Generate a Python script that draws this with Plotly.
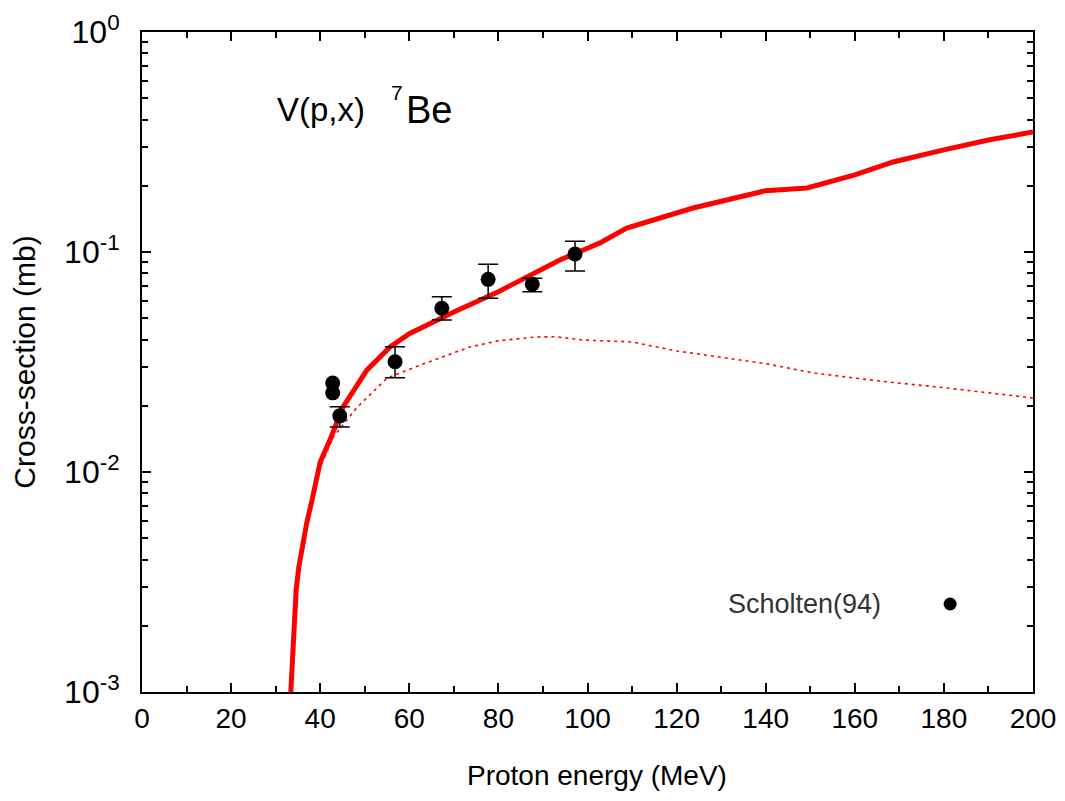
import plotly.graph_objects as go

# ---- data ----
calc_energy = [33.4, 33.9, 34.6, 35.2, 36.2, 37.0, 38.2, 40.0, 42.2, 45.1, 50.5, 55.7, 60.0,
               70.0, 80.0, 85.0, 90.0, 93.8, 100.0, 102.8, 108.8, 123.7, 140.0, 149.3,
               160.0, 168.6, 180.0, 190.0, 200.0]
calc_total = [0.001, 0.00155, 0.0029, 0.0037, 0.0048, 0.0059, 0.0075, 0.0111, 0.0140, 0.0197,
              0.0291, 0.0370, 0.0425, 0.0534, 0.0660, 0.0746, 0.0844, 0.0920, 0.104, 0.110,
              0.1285, 0.1585, 0.190, 0.1954, 0.224, 0.2565, 0.291, 0.323, 0.351]

calc2_energy = [33.4, 34.6, 36.2, 38.2, 40.0, 42.9, 48.3, 55.0, 62.4, 73.6, 80.0, 88.6, 93.0,
                99.0, 110.0, 120.0, 129.7, 140.3, 150.7, 165.6, 180.6, 200.0]
calc2_values = [0.001, 0.0029, 0.0048, 0.0075, 0.0105, 0.0144, 0.0197, 0.0267, 0.0306, 0.0370,
                0.0395, 0.0411, 0.0412, 0.0398, 0.0390, 0.0355, 0.0333, 0.0310, 0.0282,
                0.0259, 0.0241, 0.0217]

# Scholten(94): first two points drawn without error bars
exp_energy = [42.8, 42.8, 44.4, 56.8, 67.3, 77.7, 87.6, 97.2]
exp_xs = [0.0254, 0.0229, 0.0180, 0.0317, 0.0555, 0.0751, 0.0713, 0.098]
exp_err_plus = [0.0, 0.0, 0.0018, 0.0054, 0.0071, 0.0128, 0.0046, 0.014]
exp_err_minus = [0.0, 0.0, 0.0020, 0.0049, 0.0064, 0.0135, 0.0053, 0.016]
n_no_err = 2

x_tickvals = [0, 20, 40, 60, 80, 100, 120, 140, 160, 180, 200]
x_ticktext = [str(v) for v in x_tickvals]
y_tickvals = [1e-3, 1e-2, 1e-1, 1e0]
y_ticktext = ["10<sup>-3</sup>", "10<sup>-2</sup>", "10<sup>-1</sup>", "10<sup>0</sup>"]

FONT = "Liberation Sans, Arial, sans-serif"

fig = go.Figure()
fig.add_trace(go.Scatter(x=calc2_energy, y=calc2_values, mode="lines",
                         line=dict(color="red", width=1.6, dash="3px,4px"),
                         showlegend=False, hoverinfo="skip"))
fig.add_trace(go.Scatter(x=calc_energy, y=calc_total, mode="lines",
                         line=dict(color="red", width=5),
                         showlegend=False))
fig.add_trace(go.Scatter(x=exp_energy[:n_no_err], y=exp_xs[:n_no_err], mode="markers",
                         marker=dict(color="black", size=15, symbol="circle"),
                         showlegend=False))
fig.add_trace(go.Scatter(x=exp_energy[n_no_err:], y=exp_xs[n_no_err:], mode="markers",
                         marker=dict(color="black", size=15, symbol="circle"),
                         error_y=dict(type="data", symmetric=False, array=exp_err_plus[n_no_err:],
                                      arrayminus=exp_err_minus[n_no_err:], color="black",
                                      thickness=1.5, width=10),
                         showlegend=False))

fig.update_layout(
    width=1057, height=793,
    margin=dict(l=134, r=32, t=24, b=109, autoexpand=False),
    paper_bgcolor="white", plot_bgcolor="white",
    font=dict(family=FONT, color="black"),
    showlegend=False,
)
fig.update_xaxes(
    range=[0, 200], tickvals=x_tickvals, ticktext=x_ticktext,
    ticks="inside", ticklen=9, tickwidth=1.5, tickcolor="black",
    showline=True, linecolor="black", linewidth=2, mirror="allticks",
    showgrid=False, zeroline=False, automargin=False,
    tickfont=dict(size=28, family=FONT),
    minor=dict(dtick=10, ticks="inside", ticklen=6, tickwidth=1.5, tickcolor="black", showgrid=False),
)
fig.update_yaxes(
    type="log", range=[-3, 0], tickvals=y_tickvals, ticktext=y_ticktext,
    ticks="inside", ticklen=9, tickwidth=1.5, tickcolor="black",
    showline=True, linecolor="black", linewidth=2, mirror="allticks",
    showgrid=False, zeroline=False, automargin=False,
    tickfont=dict(size=32, family=FONT),
    ticklabelstandoff=14,
    minor=dict(dtick="D1", ticks="inside", ticklen=6, tickwidth=1.5, tickcolor="black", showgrid=False),
    title=dict(text="Cross-section (mb)", font=dict(size=30, family=FONT), standoff=21),
)

# x-axis title (slightly right of centre, as in the reference)
fig.add_annotation(xref="paper", yref="paper", x=0.511, y=0.0,
                   xanchor="center", yanchor="middle", yshift=-83,
                   text="Proton energy (MeV)", showarrow=False,
                   font=dict(size=28, family=FONT, color="black"))

# reaction label: V(p,x) 7Be
fig.add_annotation(xref="paper", yref="paper", x=0.0, y=0.882,
                   xanchor="left", yanchor="middle", xshift=133,
                   text="V(p,x)", showarrow=False,
                   font=dict(size=33, family=FONT, color="black"))
fig.add_annotation(xref="paper", yref="paper", x=0.0, y=0.882,
                   xanchor="left", yanchor="middle", xshift=247, yshift=17,
                   text="7", showarrow=False,
                   font=dict(size=21, family=FONT, color="black"))
fig.add_annotation(xref="paper", yref="paper", x=0.0, y=0.882,
                   xanchor="left", yanchor="middle", xshift=262,
                   text="Be", showarrow=False,
                   font=dict(size=38, family=FONT, color="black"))

fig.add_annotation(xref="paper", yref="paper", x=0.744, y=0.1333,
                   xanchor="center", yanchor="middle",
                   text="Scholten(94)", showarrow=False,
                   font=dict(size=27, family=FONT, color="#333333"))
fig.add_shape(type="circle", xref="paper", yref="paper",
              x0=0.907 - 0.0073, x1=0.907 + 0.0073, y0=0.1333 - 0.0098, y1=0.1333 + 0.0098,
              fillcolor="black", line=dict(color="black", width=0))

fig.write_html("out.html")
